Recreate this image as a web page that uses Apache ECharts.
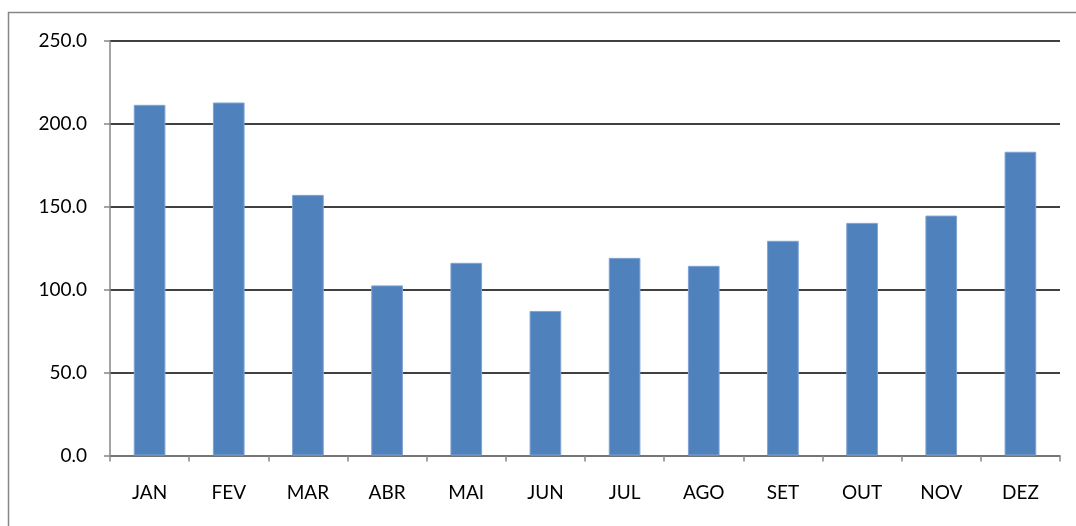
<!DOCTYPE html>
<html>
<head>
<meta charset="utf-8">
<script src="https://cdn.jsdelivr.net/npm/echarts@6/dist/echarts.min.js"></script>
<style>
html,body{margin:0;padding:0;background:#fff;}
#c{width:1076px;height:526px;}
</style>
</head>
<body>
<div id="c"></div>
<script>
var categories = ['JAN','FEV','MAR','ABR','MAI','JUN','JUL','AGO','SET','OUT','NOV','DEZ'];
var values = [211.5, 212.9, 157.2, 102.6, 116.2, 87.2, 119.2, 114.4, 129.5, 140.3, 144.7, 183.2];
var yMin = 0, yMax = 250, yStep = 50;

var chart = echarts.init(document.getElementById('c'));
chart.setOption({
  animation: false,
  backgroundColor: '#ffffff',
  graphic: [{
    type: 'rect',
    shape: {x: 8.5, y: 12.5, width: 1200, height: 700},
    style: {fill: 'none', stroke: '#868686', lineWidth: 1.5},
    silent: true
  }],
  grid: {left: 110, right: 16, top: 41, bottom: 70.5, containLabel: false},
  xAxis: {
    type: 'category',
    data: categories,
    axisLine: {lineStyle: {color: '#868686', width: 1.5}},
    axisTick: {show: true, alignWithLabel: false, length: 6, lineStyle: {color: '#868686', width: 1.5}},
    axisLabel: {color: '#000', fontFamily: 'Lato', fontSize: 19, margin: 28}
  },
  yAxis: {
    type: 'value',
    min: yMin, max: yMax, interval: yStep,
    axisLine: {show: true, lineStyle: {color: '#868686', width: 1.5}},
    axisTick: {show: true, length: 6, lineStyle: {color: '#868686', width: 1.5}},
    axisLabel: {color: '#000', fontFamily: 'Lato', fontSize: 19, margin: 23,
      formatter: function (v) { return v.toFixed(1); }},
    splitLine: {lineStyle: {color: '#000', width: 1.5}}
  },
  series: [{
    type: 'bar',
    data: values,
    barCategoryGap: '60%',
    itemStyle: {color: '#4F81BD', borderColor: '#7FA3D3', borderWidth: 1}
  }]
});
</script>
</body>
</html>
